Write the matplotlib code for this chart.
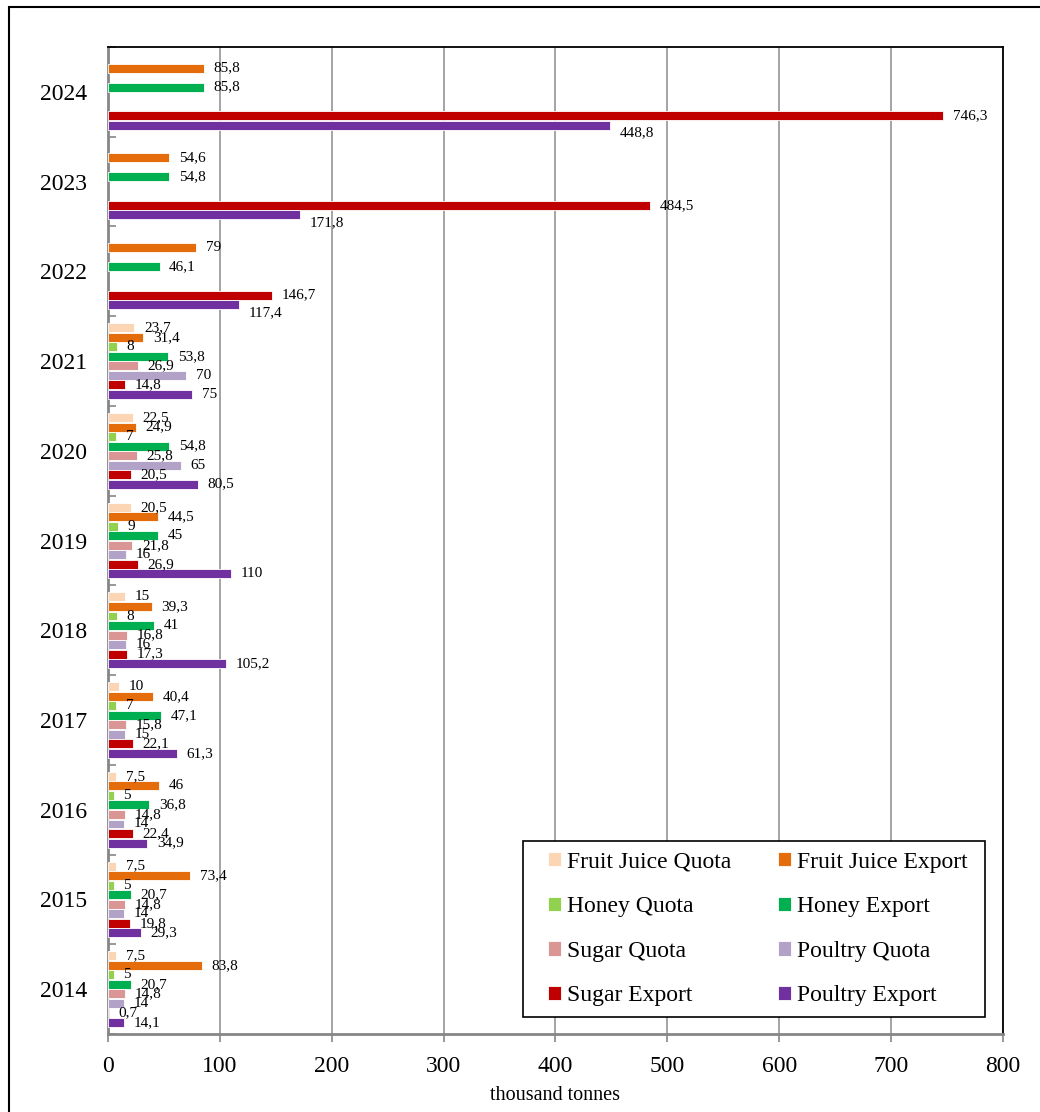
import numpy as np
import matplotlib.pyplot as plt
from matplotlib.patches import Rectangle

plt.rcParams['font.family'] = ['Liberation Serif', 'DejaVu Serif']

# Data: thousand tonnes per year (2014 -> 2024), quotas stop after 2021
years = ['2014', '2015', '2016', '2017', '2018', '2019', '2020', '2021', '2022', '2023', '2024']
fruit_juice_quota = [7.5, 7.5, 7.5, 10, 15, 20.5, 22.5, 23.7, np.nan, np.nan, np.nan]
fruit_juice_export = [83.8, 73.4, 46, 40.4, 39.3, 44.5, 24.9, 31.4, 79, 54.6, 85.8]
honey_quota = [5, 5, 5, 7, 8, 9, 7, 8, np.nan, np.nan, np.nan]
honey_export = [20.7, 20.7, 36.8, 47.1, 41, 45, 54.8, 53.8, 46.1, 54.8, 85.8]
sugar_quota = [14.8, 14.8, 14.8, 15.8, 16.8, 21.8, 25.8, 26.9, np.nan, np.nan, np.nan]
poultry_quota = [14, 14, 14, 15, 16, 16, 65, 70, np.nan, np.nan, np.nan]
sugar_export = [0.7, 19.8, 22.4, 22.1, 17.3, 26.9, 20.5, 14.8, 146.7, 484.5, 746.3]
poultry_export = [14.1, 29.3, 34.9, 61.3, 105.2, 110, 80.5, 75, 117.4, 171.8, 448.8]

series = [
    ('Fruit Juice Quota', fruit_juice_quota, '#FCD5B5'),
    ('Fruit Juice Export', fruit_juice_export, '#E46C0A'),
    ('Honey Quota', honey_quota, '#92D050'),
    ('Honey Export', honey_export, '#00B050'),
    ('Sugar Quota', sugar_quota, '#DA9694'),
    ('Poultry Quota', poultry_quota, '#B3A2C7'),
    ('Sugar Export', sugar_export, '#C00000'),
    ('Poultry Export', poultry_export, '#7030A0'),
]


def fmt(v):
    if float(v).is_integer():
        return str(int(v))
    return ('%.1f' % v).replace('.', ',')


fig = plt.figure(figsize=(10.4, 11.12), dpi=100)
ax = fig.add_axes([0.1038, 0.0701, 0.8606, 0.8876])

y = np.arange(len(years))
step = 0.106
bh = 0.1
handles = {}
for i, (name, vals, col) in enumerate(series):
    vals = np.array(vals, dtype=float)
    pos = y + (3.5 - i) * step
    ok = ~np.isnan(vals)
    b = ax.barh(pos[ok], vals[ok], height=bh, color=col, edgecolor='white', linewidth=0.6, zorder=3)
    handles[name] = b
    for k in np.where(ok)[0]:
        dy = 0
        # poultry export label drops below its bar when the sugar bar above is longer
        if name == 'Poultry Export' and sugar_export[k] > vals[k]:
            dy = -5.5
        ax.annotate(fmt(vals[k]), (vals[k], pos[k]), xytext=(7, dy), textcoords='offset points',
                    ha='left', va='center', fontsize=11, zorder=4)

ax.set_xlim(0, 800)
ax.set_ylim(-0.5, len(years) - 0.5)
ax.set_xticks(np.arange(0, 801, 100))
ax.set_yticks(y)
ax.set_yticklabels(years)
ax.set_yticks(np.arange(-0.5, len(years), 1), minor=True)
ax.tick_params(axis='y', which='major', length=0, labelsize=17, pad=15)
ax.tick_params(axis='y', which='minor', direction='in', length=6, width=1.2, color='#868686')
ax.tick_params(axis='x', length=6, width=1.2, color='#868686', labelsize=17, pad=10)
ax.set_xlabel('thousand tonnes', fontsize=14.5, labelpad=6)

ax.grid(axis='x', color='#8c8c8c', linewidth=1.1, zorder=0)
ax.set_axisbelow(True)
for s in ['left', 'bottom']:
    ax.spines[s].set_color('#868686')
    ax.spines[s].set_linewidth(2)
for s in ['top', 'right']:
    ax.spines[s].set_color('black')
    ax.spines[s].set_linewidth(1.3)

# legend box drawn separately so the padding can differ across/down
ax.add_patch(Rectangle((0.4637, 0.0172), 0.5163, 0.1783, transform=ax.transAxes,
                       facecolor='white', edgecolor='black', linewidth=1.2, zorder=5, clip_on=False))

# legend is filled column by column, so reorder to read row-wise
order = ['Fruit Juice Quota', 'Honey Quota', 'Sugar Quota', 'Sugar Export',
         'Fruit Juice Export', 'Honey Export', 'Poultry Quota', 'Poultry Export']
leg = ax.legend([handles[n] for n in order], order, ncol=2, loc='upper left',
                bbox_to_anchor=(0.4916, 0.1848), fontsize=17, frameon=False,
                borderpad=0, borderaxespad=0, labelspacing=1.0,
                columnspacing=2.0, handletextpad=0.25, handlelength=0.55, handleheight=0.55)
leg.set_zorder(6)

# outer frame around the whole chart
fig.patches.append(Rectangle((9 / 1040, -0.05), 1.1, 1.05 - 7 / 1112, transform=fig.transFigure,
                             fill=False, edgecolor='black', linewidth=1.5))

fig.savefig('out.png', dpi=100)
